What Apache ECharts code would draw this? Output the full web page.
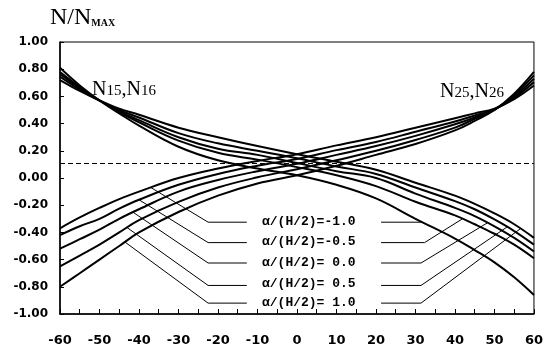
<!DOCTYPE html>
<html><head><meta charset="utf-8">
<script src="https://cdn.jsdelivr.net/npm/echarts@6/dist/echarts.min.js"></script>
<style>html,body{margin:0;padding:0;background:#fff}#c{width:546px;height:354px}</style>
</head><body><div id="c"></div>
<script>
// x positions (degrees) where curves were read
const xs = [-60,-55,-50,-45,-40,-30,-20,-10,0,10,20,30,40,45,50,55,60];
// ascending family N25,N26 (alpha/(H/2) = -1.0 ... 1.0)
const a1 = [-0.37,-0.29,-0.22,-0.155,-0.10,0.00,0.07,0.125,0.175,0.24,0.30,0.37,0.44,0.475,0.51,0.58,0.68];
const a2 = [-0.42,-0.355,-0.30,-0.225,-0.16,-0.05,0.03,0.09,0.14,0.205,0.265,0.34,0.415,0.46,0.505,0.59,0.705];
const a3 = [-0.52,-0.45,-0.38,-0.30,-0.23,-0.10,-0.015,0.05,0.105,0.17,0.235,0.31,0.395,0.445,0.505,0.60,0.73];
const a4 = [-0.65,-0.57,-0.49,-0.40,-0.31,-0.175,-0.07,0.005,0.065,0.13,0.20,0.28,0.37,0.435,0.50,0.61,0.755];
const a5 = [-0.80,-0.70,-0.60,-0.50,-0.40,-0.25,-0.13,-0.04,0.02,0.09,0.17,0.25,0.35,0.42,0.50,0.62,0.78];
// descending family N15,N16
const d1 = [0.72,0.64,0.57,0.51,0.465,0.37,0.30,0.235,0.175,0.12,0.06,-0.035,-0.13,-0.19,-0.26,-0.34,-0.44];
const d2 = [0.745,0.65,0.57,0.50,0.445,0.33,0.255,0.20,0.145,0.085,0.03,-0.07,-0.17,-0.23,-0.305,-0.39,-0.49];
const d3 = [0.765,0.66,0.57,0.49,0.425,0.30,0.215,0.17,0.11,0.05,0.00,-0.115,-0.22,-0.28,-0.355,-0.44,-0.54];
const d4 = [0.78,0.67,0.57,0.485,0.41,0.275,0.185,0.135,0.08,0.02,-0.06,-0.175,-0.275,-0.34,-0.41,-0.49,-0.59];
const d5 = [0.81,0.68,0.57,0.475,0.385,0.23,0.13,0.07,0.02,-0.05,-0.15,-0.30,-0.445,-0.53,-0.62,-0.73,-0.86];
const dashedLevel = 0.11;
const alphaLabels = ['\u03b1/(H/2)=-1.0','\u03b1/(H/2)=-0.5','\u03b1/(H/2)= 0.0','\u03b1/(H/2)= 0.5','\u03b1/(H/2)= 1.0'];
// leader lines (data coordinates)
const leftLeaders = [
  [[-37,-0.07],[-22.5,-0.325],[-12.7,-0.325]],
  [[-40,-0.16],[-22.5,-0.475],[-12.7,-0.475]],
  [[-41.6,-0.25],[-22.5,-0.625],[-12.7,-0.625]],
  [[-43,-0.365],[-22.5,-0.79],[-12.7,-0.79]],
  [[-43.6,-0.47],[-22.5,-0.92],[-12.7,-0.92]]
];
const rightLeaders = [
  [[21.3,-0.325],[31.6,-0.325]],
  [[21.3,-0.475],[32.3,-0.475],[41.9,-0.30]],
  [[21.3,-0.625],[31.4,-0.625],[48.2,-0.33]],
  [[21.3,-0.79],[31.4,-0.79],[53.2,-0.36]],
  [[21.3,-0.92],[31.4,-0.92],[56.6,-0.372]]
];

const zip = arr => xs.map((x,i)=>[x,arr[i]]);
const curveStyle = {color:'#000', width:2};
const series = [];
[a1,a2,a3,a4,a5,d1,d2,d3,d4,d5].forEach((arr,i)=>{
  series.push({type:'line', data:zip(arr), smooth:0.4, symbol:'none', lineStyle:curveStyle, silent:true, z:3});
});
series[0].markLine = {silent:true, symbol:'none', label:{show:false},
  lineStyle:{type:[5,3], color:'#000', width:1}, data:[{yAxis:dashedLevel}]};
leftLeaders.concat(rightLeaders).forEach(pts=>{
  series.push({type:'line', data:pts, symbol:'none', lineStyle:{color:'#000', width:1}, silent:true, z:2});
});

const chart = echarts.init(document.getElementById('c'), null, {renderer:'canvas'});
const numFont = '"DejaVu Sans", "Liberation Sans", sans-serif';
const serif = '"Liberation Serif", "DejaVu Serif", serif';
const mono = '"Liberation Mono", "DejaVu Sans Mono", monospace';
chart.setOption({
  animation:false,
  backgroundColor:'#fff',
  grid:{left:60, right:9, top:42, bottom:40, show:true, borderColor:'#000', borderWidth:1, backgroundColor:'transparent'},
  xAxis:{type:'value', min:-60, max:60, interval:10,
    axisLine:{onZero:false, lineStyle:{color:'#000', width:1.5}},
    axisTick:{inside:true, length:5, lineStyle:{color:'#000'}},
    minorTick:{show:true, splitNumber:2, length:5, lineStyle:{color:'#000'}},
    splitLine:{show:false},
    axisLabel:{color:'#000', fontWeight:'bold', fontSize:13, margin:20, fontFamily:numFont}},
  yAxis:{type:'value', min:-1, max:1, interval:0.2,
    axisLine:{onZero:false, lineStyle:{color:'#000', width:1.5}},
    axisTick:{inside:true, length:4, lineStyle:{color:'#000'}},
    splitLine:{show:false},
    axisLabel:{color:'#000', fontWeight:'bold', fontSize:12, margin:12, fontFamily:numFont,
      formatter:v=>v.toFixed(2)}},
  graphic:[
    {type:'text', left:50, top:6, style:{
      text:'{n|N/N}{m|MAX}',
      rich:{n:{fontSize:24, fontFamily:serif, lineHeight:26, verticalAlign:'top', fill:'#000'},
            m:{fontSize:10, fontWeight:'bold', fontFamily:serif, lineHeight:10, padding:[12,0,0,0], verticalAlign:'top', fill:'#000'}}}},
    {type:'text', left:92, top:80, style:{
      text:'{n|N}{s|15}{n|,}{n|N}{s|16}',
      rich:{n:{fontSize:20, fontFamily:serif, lineHeight:20, verticalAlign:'top', fill:'#000'},
            s:{fontSize:15, fontFamily:serif, lineHeight:20, padding:[4,0,0,0], verticalAlign:'top', fill:'#000'}}}},
    {type:'text', left:440, top:82, style:{
      text:'{n|N}{s|25}{n|,}{n|N}{s|26}',
      rich:{n:{fontSize:20, fontFamily:serif, lineHeight:20, verticalAlign:'top', fill:'#000'},
            s:{fontSize:15, fontFamily:serif, lineHeight:20, padding:[4,0,0,0], verticalAlign:'top', fill:'#000'}}}},
    ...alphaLabels.map((t,i)=>({type:'text', left:262, top:[215,235,256,277,296][i],
      style:{text:t, font:'bold 13px '+mono, fill:'#000'}}))
  ],
  series:series
});
</script></body></html>
